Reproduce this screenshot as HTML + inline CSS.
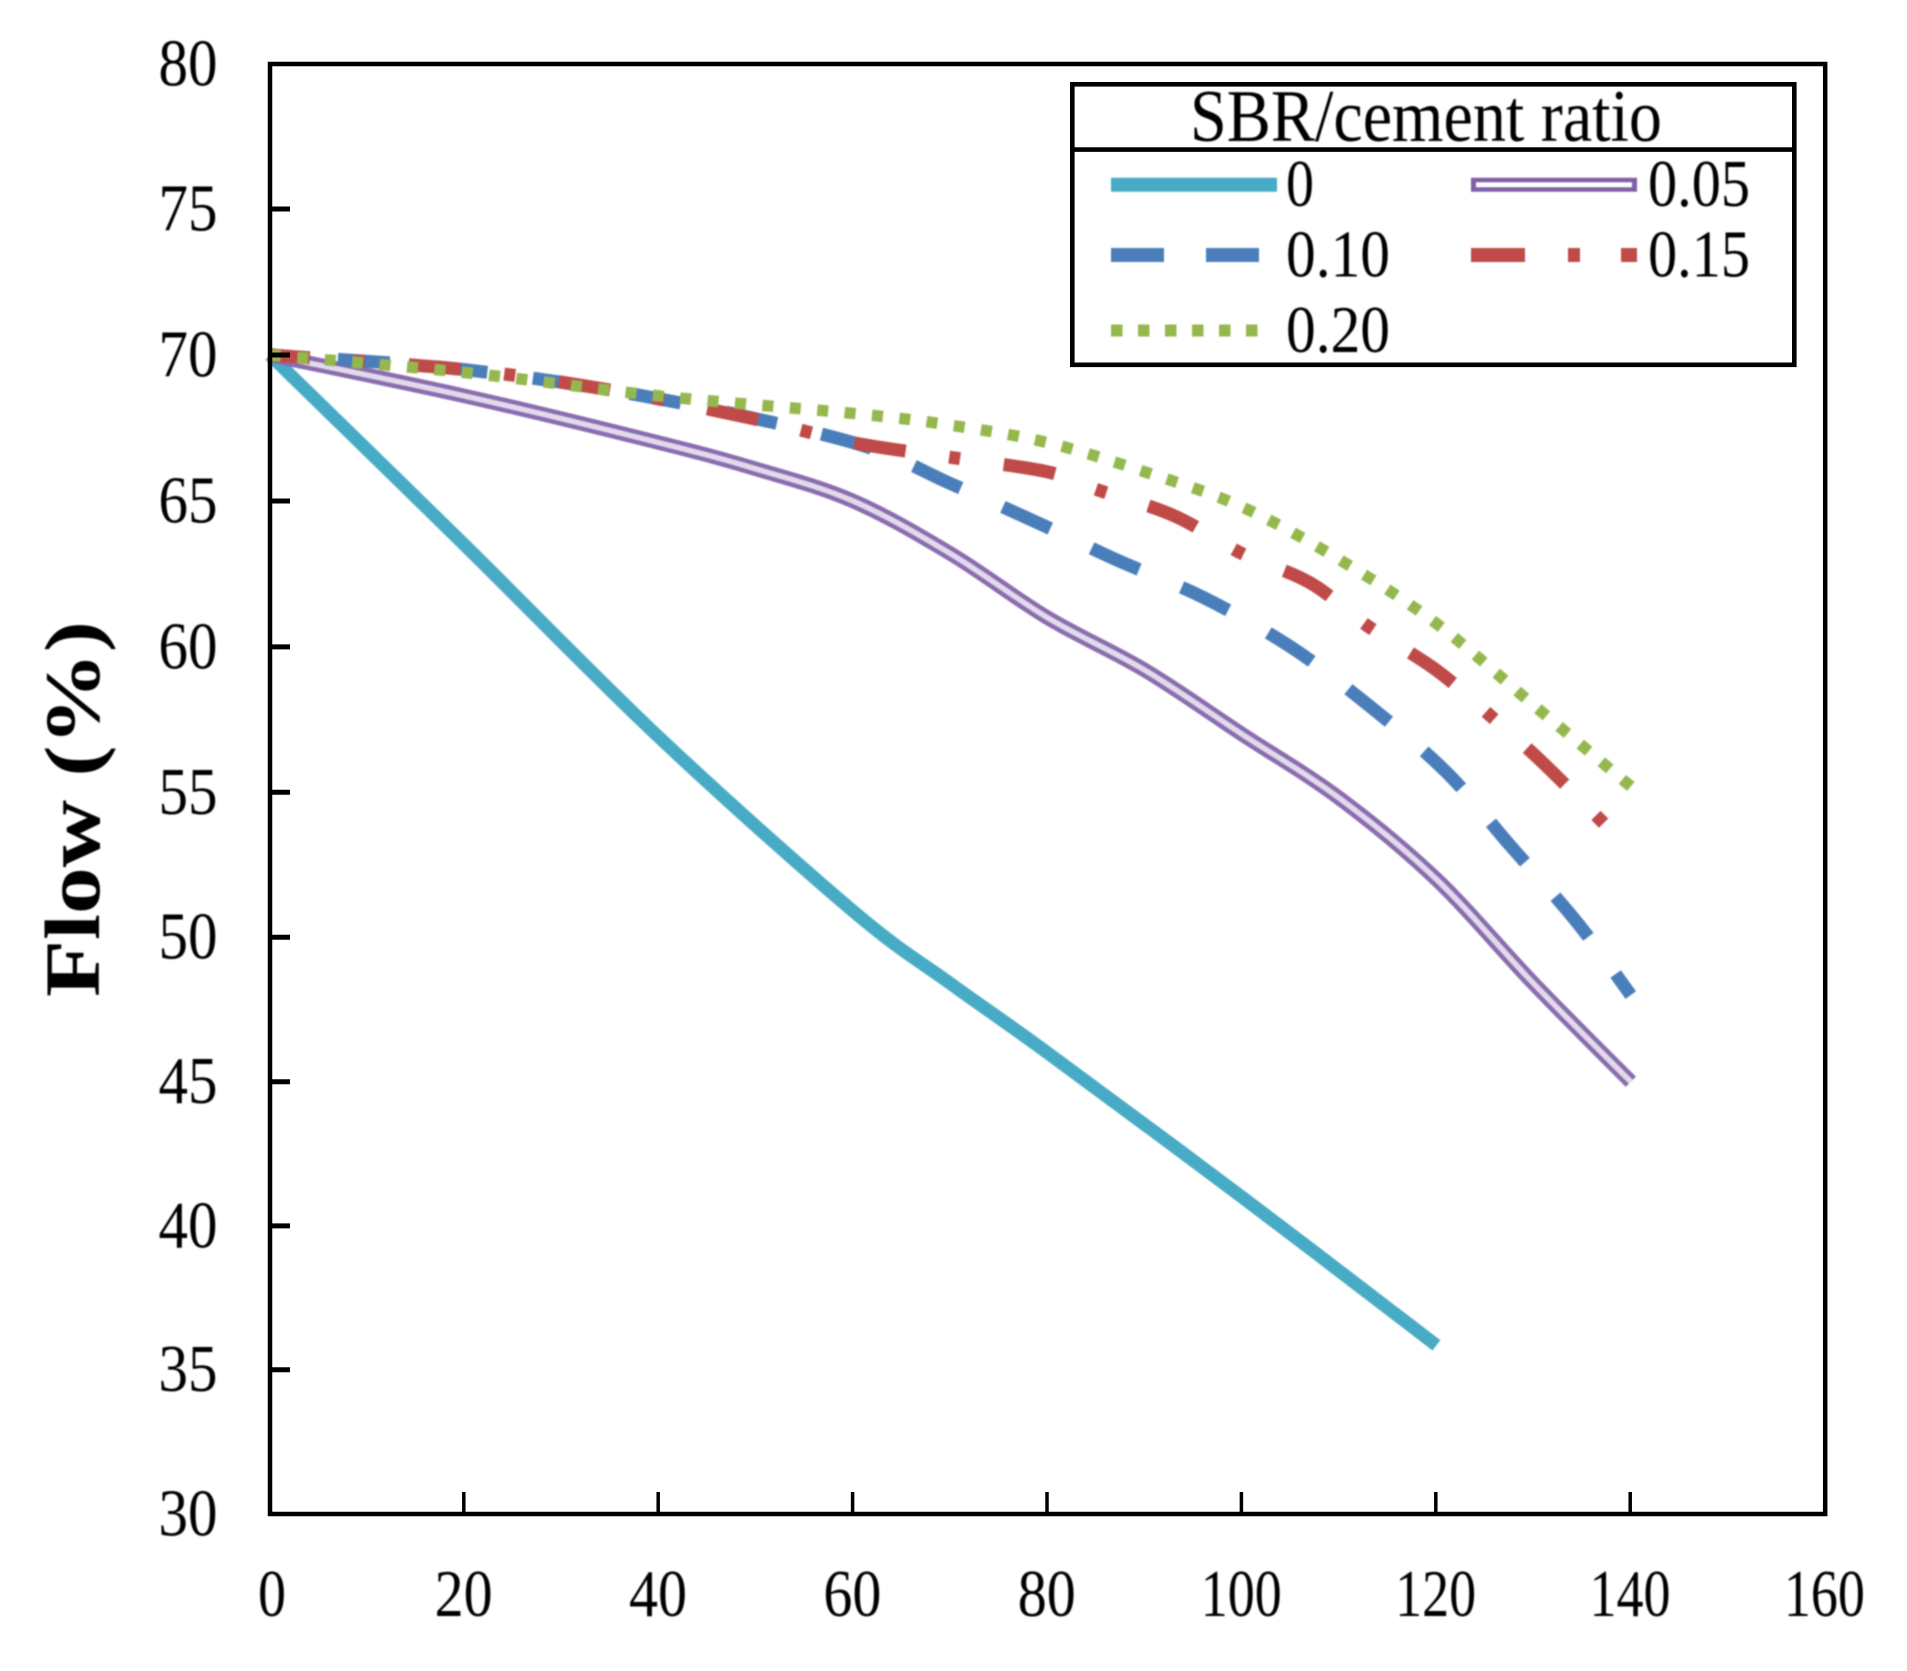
<!DOCTYPE html>
<html lang="en">
<head>
<meta charset="utf-8">
<title>Flow vs time by SBR/cement ratio</title>
<style>
  html, body { margin: 0; padding: 0; background: #fff; width: 1907px; height: 1671px; overflow: hidden; }
  svg { display: block; }
  text { font-family: "Liberation Serif", "Times New Roman", serif; fill: #000; }
  #plot-content, #labels, #legend-content { filter: blur(0.7px); }
</style>
</head>
<body>
<svg id="chart" width="1907" height="1671" viewBox="0 0 1907 1671" xmlns="http://www.w3.org/2000/svg">
  <rect x="0" y="0" width="1907" height="1671" fill="#fff"/>
  <g id="plot-content"></g>
  <g id="axes"></g>
  <g id="labels">
    <text transform="translate(99,997) rotate(-90)" font-size="78" font-weight="bold" textLength="376" lengthAdjust="spacingAndGlyphs">Flow (%)</text>
  </g>
  <g id="legend">
    <rect x="1072.3" y="84.3" width="722" height="280.5" fill="#fff" stroke="#000" stroke-width="4.6"/>
    <line x1="1072" y1="149.6" x2="1795" y2="149.6" stroke="#000" stroke-width="4.6"/>
    <g id="legend-content">
      <text x="1426" y="141" font-size="74" text-anchor="middle" textLength="472" lengthAdjust="spacingAndGlyphs">SBR/cement ratio</text>

      <g>
        <line x1="1111" y1="184.8" x2="1277" y2="184.8" stroke="#47abc5" stroke-width="14"/>
        <text x="1286" y="206" font-size="67" textLength="28" lengthAdjust="spacingAndGlyphs">0</text>
      </g>
      <g>
        <line x1="1471" y1="184.8" x2="1637" y2="184.8" stroke="#7f5fa6" stroke-width="14"/>
        <line x1="1476" y1="184.8" x2="1632" y2="184.8" stroke="#fff" stroke-width="5"/>
        <text x="1648" y="206" font-size="67" textLength="102" lengthAdjust="spacingAndGlyphs">0.05</text>
      </g>
      <g>
        <line x1="1111" y1="255" x2="1259" y2="255" stroke="#4a7ebb" stroke-width="14" stroke-dasharray="53 42"/>
        <text x="1286" y="276.5" font-size="67" textLength="104" lengthAdjust="spacingAndGlyphs">0.10</text>
      </g>
      <g>
        <line x1="1471" y1="255" x2="1637" y2="255" stroke="#bf4a48" stroke-width="14" stroke-dasharray="54 43 12 41"/>
        <text x="1648" y="276.5" font-size="67" textLength="102" lengthAdjust="spacingAndGlyphs">0.15</text>
      </g>
      <g>
        <line x1="1111" y1="330.5" x2="1261" y2="330.5" stroke="#95b84e" stroke-width="12" stroke-dasharray="11.5 15.5"/>
        <text x="1286" y="352" font-size="67" textLength="104" lengthAdjust="spacingAndGlyphs">0.20</text>
      </g>
    </g>
  </g>
</svg>
<script>
// ---- chart data ----
const xTickValues = [0, 20, 40, 60, 80, 100, 120, 140, 160];
const yTickValues = [30, 35, 40, 45, 50, 55, 60, 65, 70, 75, 80];

const timeSbr000 = [0, 20, 40, 60, 70, 80, 100, 120];
const flowSbr000 = [70, 63.5, 56.9, 50.9, 48.4, 46, 41, 35.85];

const timeSbr005 = [0, 20, 40, 50, 60, 70, 80, 90, 100, 110, 120, 130, 140];
const flowSbr005 = [70, 68.6, 67, 66.1, 65, 63.2, 61, 59.2, 57, 54.8, 52, 48.4, 45];

const timeSbr010 = [0, 20, 40, 60, 70, 80, 87, 96, 105, 113, 121, 127.5, 134.5, 140];
const flowSbr010 = [70, 69.5, 68.5, 67, 65.6, 64.1, 63, 61.7, 60, 58, 55.7, 53.2, 50.5, 48];

const timeSbr015 = [0, 20, 35, 50, 60, 70, 80, 85, 93, 100, 107, 113, 120, 126, 131, 138.5];
const flowSbr015 = [70, 69.5, 68.8, 67.8, 67, 66.5, 66, 65.4, 64.5, 63.2, 62.2, 60.7, 59.2, 57.5, 56, 53.5];

const timeSbr020 = [0, 20, 40, 60, 70, 80, 90, 100, 110, 120, 130, 140];
const flowSbr020 = [70, 69.4, 68.6, 68, 67.6, 67, 66, 64.8, 63, 60.8, 58, 55.2];

// ---- axis functions ----
const xScale = function (t) { return 270 + t * 9.72; };
// The reference's y axis is very slightly non-linear (resampling), sagging about 3px mid-range.
const yScale = function (v) {
  const u = (v - 32) / 42;
  const sag = (u > 0 && u < 1) ? 3.3 * Math.sin(Math.PI * u) : 0;
  return 1514 - (v - 30) * 29 + sag;
};

const NS = 'http://www.w3.org/2000/svg';
function make(tag, attrs, parent) {
  const el = document.createElementNS(NS, tag);
  for (const k in attrs) el.setAttribute(k, attrs[k]);
  parent.appendChild(el);
  return el;
}

// Smooth (Catmull-Rom) path through the data points
function smoothPath(times, values) {
  const pts = times.map(function (t, i) { return [xScale(t), yScale(values[i])]; });
  let d = 'M' + pts[0][0].toFixed(2) + ' ' + pts[0][1].toFixed(2);
  for (let i = 0; i < pts.length - 1; i++) {
    const p0 = pts[Math.max(i - 1, 0)];
    const p1 = pts[i];
    const p2 = pts[i + 1];
    const p3 = pts[Math.min(i + 2, pts.length - 1)];
    const c1x = p1[0] + (p2[0] - p0[0]) / 6;
    const c1y = p1[1] + (p2[1] - p0[1]) / 6;
    const c2x = p2[0] - (p3[0] - p1[0]) / 6;
    const c2y = p2[1] - (p3[1] - p1[1]) / 6;
    d += 'C' + c1x.toFixed(2) + ' ' + c1y.toFixed(2) + ' ' + c2x.toFixed(2) + ' ' + c2y.toFixed(2) + ' ' + p2[0].toFixed(2) + ' ' + p2[1].toFixed(2);
  }
  return d;
}

const plot = document.getElementById('plot-content');
const axes = document.getElementById('axes');
const labels = document.getElementById('labels');

// ---- series (bottom to top) ----
const lineTeal = make('path', { d: smoothPath(timeSbr000, flowSbr000), fill: 'none', stroke: '#47abc5', 'stroke-width': 13 }, plot);



const linePurple = make('path', { d: smoothPath(timeSbr005, flowSbr005), fill: 'none', stroke: '#8a6dae', 'stroke-width': 14.5 }, plot);



const linePurpleInner = make('path', { d: smoothPath(timeSbr005, flowSbr005), fill: 'none', stroke: '#e2daec', 'stroke-width': 5.5 }, plot);



const lineBlue = make('path', { d: smoothPath(timeSbr010, flowSbr010), fill: 'none', stroke: '#4a7ebb', 'stroke-width': 13, 'stroke-dasharray': '52 46', 'stroke-dashoffset': 30 }, plot);



const lineRed = make('path', { d: smoothPath(timeSbr015, flowSbr015), fill: 'none', stroke: '#bf4a48', 'stroke-width': 13, 'stroke-dasharray': '52 44 11 44', 'stroke-dashoffset': 12 }, plot);



const lineGreen = make('path', { d: smoothPath(timeSbr020, flowSbr020), fill: 'none', stroke: '#95b84e', 'stroke-width': 11.5, 'stroke-dasharray': '11 16.5' }, plot);



// ---- axes ----
const frame = make('rect', {
  x: xScale(0), y: yScale(80),
  width: xScale(160) - xScale(0), height: yScale(30) - yScale(80),
  fill: 'none', stroke: '#000', 'stroke-width': 4.5
}, axes);



xTickValues.forEach(function (t) {
  if (t !== 0 && t !== 160) {
    const tick = make('line', { x1: xScale(t) - 0.6, x2: xScale(t) - 0.6, y1: yScale(30), y2: yScale(30) - 22, stroke: '#000', 'stroke-width': 3.5 }, axes);
    
    
  }
  const label = make('text', {
    x: xScale(t) + (t === 0 ? 2 : -0.8), y: 1616, 'font-size': 67, 'text-anchor': 'middle',
    textLength: String(t).length === 1 ? 28 : (String(t).length === 2 ? 58 : 81),
    lengthAdjust: 'spacingAndGlyphs'
  }, labels);
  label.textContent = String(t);
  
  
});

yTickValues.forEach(function (v) {
  if (v !== 30 && v !== 80) {
    const tick = make('line', { x1: xScale(0), x2: xScale(0) + 20, y1: yScale(v), y2: yScale(v), stroke: '#000', 'stroke-width': 5 }, axes);
    
    
  }
  const label = make('text', {
    x: 188, y: yScale(v) + 21.5, 'font-size': 67, 'text-anchor': 'middle',
    textLength: 59, lengthAdjust: 'spacingAndGlyphs'
  }, labels);
  label.textContent = String(v);
  
  
});
</script>
</body>
</html>
